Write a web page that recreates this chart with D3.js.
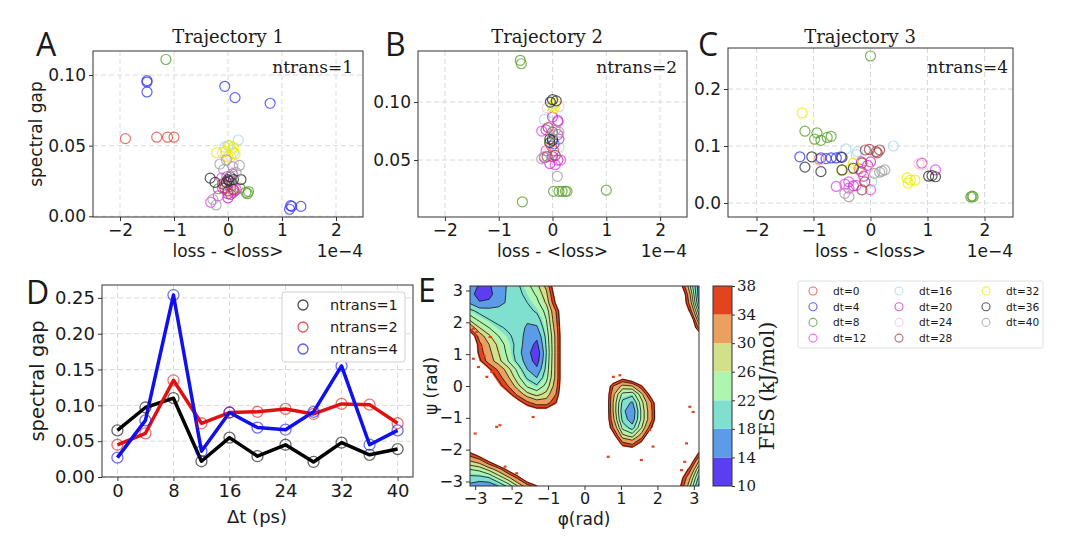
<!DOCTYPE html>
<html lang="en">
<head>
<meta charset="UTF-8">
<title>Spectral gap and FES</title>
<script src="https://d3js.org/d3.v7.min.js"></script>
<style>
  body { margin: 0; background: #fff; }
  svg text { fill: #1a1a1a; }
  .grid line { stroke: #d9d9d9; stroke-dasharray: 5,3; stroke-width: 1; }
  .frame { fill: none; stroke: #333; stroke-width: 1; }
</style>
</head>
<body>
<svg id="fig" width="1080" height="538"></svg>
<script>
// ---- data ----
const dtLabels = [0, 4, 8, 12, 16, 20, 24, 28, 32, 36, 40];
const dtColors = ['#e4503f', '#3a3af5', '#5aa02c', '#ee44ee', '#a8d8f0', '#d030d0',
                  '#f4c4d4', '#a04848', '#eded00', '#303030', '#a0a0a0'];

// [loss - <loss> (1e-4), spectral gap] per dt
const trajA = [
  [[-1.9,0.055],[-1.32,0.056],[-1.12,0.056],[-1.0,0.056]],
  [[-1.5,0.096],[-1.5,0.095],[-1.5,0.088],[-0.06,0.092],[0.13,0.084],[0.78,0.080],[1.14,0.005],[1.18,0.007],[1.35,0.007],[1.16,0.0075]],
  [[-1.15,0.111],[0.33,0.017],[0.38,0.0175],[0.36,0.016],[-0.18,0.0195],[0.22,0.02],[0.05,0.021]],
  [[-0.32,0.010],[-0.18,0.0145],[-0.05,0.022],[0.1,0.017],[-0.12,0.027],[0.15,0.019]],
  [[0.0,0.050],[0.19,0.054],[-0.06,0.049],[0.1,0.045]],
  [[-0.1,0.02],[0.0,0.016],[0.05,0.025],[0.12,0.018],[-0.02,0.028],[0.08,0.03],[0.0,0.013]],
  [[-0.1,0.045],[0.05,0.042],[0.1,0.038],[-0.05,0.024],[0.02,0.02]],
  [[-0.06,0.02],[0.0,0.018],[0.05,0.0155],[0.1,0.019],[-0.1,0.023]],
  [[-0.21,0.045],[-0.05,0.046],[0.07,0.047],[0.13,0.044],[0.0,0.042],[0.1,0.049],[0.03,0.05]],
  [[-0.33,0.027],[-0.24,0.024],[0.04,0.028],[0.1,0.026],[0.24,0.026],[-0.03,0.024],[0.0,0.026],[0.02,0.025]],
  [[-0.15,0.037],[-0.03,0.04],[0.09,0.035],[0.21,0.036],[0.15,0.031],[-0.28,0.012],[-0.22,0.008],[-0.08,0.033]]
];
const trajB = [
  [[-0.02,0.062],[0.02,0.058]],
  [[0.0,0.068],[0.03,0.064]],
  [[-0.6,0.136],[-0.58,0.133],[-0.56,0.014],[0.02,0.023],[0.12,0.023],[0.18,0.023],[0.24,0.023],[0.27,0.023],[1.0,0.024]],
  [[-0.2,0.075],[0.1,0.083],[0.15,0.05],[0.05,0.046],[-0.12,0.058]],
  [[-0.15,0.085],[0.12,0.061],[0.0,0.091]],
  [[0.0,0.087],[0.1,0.084],[-0.12,0.076],[0.1,0.072],[0.12,0.068],[0.0,0.053],[0.1,0.05],[-0.05,0.047],[-0.15,0.052]],
  [[-0.1,0.095],[0.12,0.096],[-0.05,0.06]],
  [[-0.08,0.078],[0.0,0.074],[0.05,0.054],[-0.1,0.053]],
  [[0.0,0.097],[0.05,0.099],[0.03,0.095],[-0.05,0.065]],
  [[0.0,0.102],[0.07,0.101],[-0.04,0.1],[-0.05,0.068],[-0.05,0.065],[0.0,0.067]],
  [[0.05,0.076],[0.12,0.074],[0.0,0.072],[-0.15,0.053],[-0.2,0.051],[0.09,0.036]]
];
const trajC = [
  [[-0.9,0.077],[-0.2,0.06]],
  [[-1.24,0.081],[-0.87,0.079],[-0.78,0.078],[-0.69,0.079],[-0.6,0.079],[-0.52,0.081]],
  [[0.0,0.258],[1.76,0.0105],[1.8,0.011],[1.78,0.012],[-1.15,0.126],[-0.94,0.123],[-0.98,0.112],[-0.87,0.11],[-0.76,0.115],[-0.69,0.117]],
  [[-0.6,0.029],[-0.45,0.033],[-0.38,0.037],[-0.38,0.026],[-0.25,0.031],[0.0,0.023],[1.14,0.058]],
  [[-0.43,0.095],[-0.23,0.09],[0.4,0.1],[0.02,0.037],[-0.25,0.085]],
  [[-0.16,0.072],[0.0,0.072],[-0.05,0.066],[-0.16,0.055],[-0.12,0.047],[0.9,0.07],[-0.3,0.03]],
  [[-0.9,0.075],[0.9,0.067],[0.85,0.069],[-0.05,0.06]],
  [[-0.09,0.093],[-0.02,0.094],[0.1,0.09],[0.16,0.093],[0.12,0.088],[-0.15,0.07],[-0.1,0.037],[-0.15,0.023]],
  [[-1.2,0.158],[-0.3,0.07],[-0.5,0.057],[-0.35,0.06],[0.64,0.044],[0.66,0.035],[0.78,0.04],[0.7,0.04]],
  [[-1.03,0.081],[-1.15,0.063],[-0.87,0.055],[-0.5,0.08],[-0.5,0.058],[-0.3,0.061],[1.02,0.047],[1.08,0.048],[1.14,0.046]],
  [[0.07,0.052],[0.16,0.054],[0.25,0.058],[0.2,0.056],[-0.45,0.017],[-0.38,0.011]]
];

// panel D
const dtPs = [0, 4, 8, 12, 16, 20, 24, 28, 32, 36, 40];
const gapN1 = [0.065, 0.097, 0.110, 0.022, 0.055, 0.029, 0.045, 0.021, 0.048, 0.031, 0.039];
const gapN2 = [0.045, 0.061, 0.135, 0.075, 0.090, 0.091, 0.095, 0.088, 0.102, 0.101, 0.075];
const gapN4 = [0.027, 0.079, 0.254, 0.036, 0.090, 0.069, 0.066, 0.091, 0.155, 0.045, 0.065];
const nLabels = ['ntrans=1', 'ntrans=2', 'ntrans=4'];
const nColors = ['#000000', '#e01010', '#1010ee'];

// panel E: FES (kJ/mol) on a 25x25 grid, phi from -pi to pi (columns),
// psi from pi (first row) down to -pi (last row); 45 = above the plotted range
const fesGrid = [
  [16,13.5,13.5,16,18.5,20.5,23,26,31,42,45,45,45,45,45,45,45,45,45,45,45,45,40,28,16],
  [16,11.5,12.5,16.5,18.5,20,22,24.5,29,40,45,45,45,45,45,45,45,45,45,45,45,45,45,31,16],
  [17.5,14.5,15,17,18.5,19.5,21,23,27.5,38,45,45,45,45,45,45,45,45,45,45,45,45,45,33,17.5],
  [22,20,19.5,19,19,19.5,20,21.5,25,34,45,45,45,45,45,45,45,45,45,45,45,45,45,37,22],
  [26,23,21,20,19.5,19,18.5,19.5,24,33,45,45,45,45,45,45,45,45,45,45,45,45,45,44,26],
  [33,27,24,21.5,20.5,19.5,17.5,17.5,23,32,45,45,45,45,45,45,45,45,45,45,45,45,45,45,33],
  [42,32,27.5,24,21.5,20,16.5,15,22,31,45,45,45,45,45,45,45,45,45,45,45,45,45,45,42],
  [45,35,30,26,22.5,20,16,13,21.5,31,45,45,45,45,45,45,45,45,45,45,45,45,45,45,45],
  [44,36,31,27,23,19.5,15.5,11,21,31,45,45,45,45,45,45,45,45,45,45,45,45,45,45,45],
  [45,38,32,28,24,20,16.5,12,21.5,31,45,45,45,45,45,45,45,45,45,45,45,45,45,45,45],
  [45,44,38,33,28,23,18,15,22,31,45,45,45,45,45,45,45,45,45,45,45,45,45,45,45],
  [45,45,41,36,30.5,25,20.5,18,23,31,45,45,45,45,45,44,39,43,45,45,45,45,45,45,45],
  [45,45,45,39,34,28,23.5,21.5,25,32,45,45,45,45,45,34,29,30,37,45,45,45,45,45,45],
  [45,45,45,45,39,33,28,26,28,34,45,45,45,45,45,31,23,22,29,40,45,45,45,45,45],
  [45,45,45,45,45,40,35,32,32,37,45,45,45,45,45,30,20,17.5,26,34,45,45,45,45,45],
  [45,45,45,45,45,45,42,40,40,43,45,45,45,45,45,30,19,15,25,33,45,45,45,45,45],
  [45,45,45,45,45,45,45,45,45,45,45,45,45,45,45,31,20,16,25,33,45,45,45,45,45],
  [45,45,45,45,45,45,45,45,45,45,45,45,45,45,45,34,23,19.5,27,37,45,45,45,45,45],
  [45,45,45,45,45,45,45,45,45,45,45,45,45,45,45,40,28,26,32,45,45,45,45,45,45],
  [45,45,45,45,45,45,45,45,45,45,45,45,45,45,45,45,36,34,40,45,45,45,45,45,45],
  [37,42,45,45,45,45,45,45,45,45,45,45,45,45,45,45,44,43,45,45,45,45,45,45,37],
  [30,32,38,45,45,45,45,45,45,45,45,45,45,45,45,45,45,45,45,45,45,45,45,42,30],
  [24,25,28,32,39,45,45,45,45,45,45,45,45,45,45,45,45,45,45,45,45,45,44,36,24],
  [20,20,21,25,29,35,43,45,45,45,45,45,45,45,45,45,45,45,45,45,45,45,40,31,20],
  [17,15.5,15.5,18,22,27,32,37,45,45,45,45,45,45,45,45,45,45,45,45,45,45,38,28,17]
];
const fesLevels = [10, 14, 18, 22, 26, 30, 34, 38];
const fesColors = ['#5b3df2', '#5b9be8', '#7fe0d0', '#aef5b0', '#d2e08a', '#eba060', '#e2441e'];
const fesLines = [14, 18, 21, 24, 27, 30, 34, 37];
// isolated high-energy samples [phi, psi] (rad)
const fesSpecks = [[-3.05,0.86],[-2.91,0.60],[-2.68,0.29],[-2.82,1.23],[-2.41,-1.28],[-2.32,-1.23],
  [-3.0,-1.49],[2.89,-0.65],[2.98,-0.81],[2.8,-1.8],[1.56,-2.32],[0.79,0.29],[0.97,0.34],
  [0.65,-2.22],[-1.41,-0.97],[-3.05,1.8],[-2.96,1.7],[-2.59,1.54],[2.75,-2.38],[2.66,-2.64],
  [-2.18,-2.53],[-1.86,-2.74],[1.79,-1.38],[1.88,-1.9],[-2.75,0.95],[-2.55,0.45]];

// ---- drawing ----
const svg = d3.select('#fig');
const SANS = 'DejaVu Sans', SERIF = 'DejaVu Serif';

function grid(x, y, xt, yt) {
  const [l, r] = x.range(), [b, t] = y.range();
  const g = svg.append('g').attr('class', 'grid');
  g.selectAll('.gx').data(xt).join('line').attr('class', 'gx')
    .attr('x1', d => x(d)).attr('x2', d => x(d)).attr('y1', t).attr('y2', b);
  g.selectAll('.gy').data(yt).join('line').attr('class', 'gy')
    .attr('y1', d => y(d)).attr('y2', d => y(d)).attr('x1', l).attr('x2', r);
}

function axes(x, y, xt, yt, fx, fy, fs) {
  const [l, r] = x.range(), [b, t] = y.range();
  const ax = svg.append('g').attr('transform', `translate(0,${b})`)
    .call(d3.axisBottom(x).tickValues(xt).tickFormat(fx).tickSize(4).tickPadding(3));
  const ay = svg.append('g').attr('transform', `translate(${l},0)`)
    .call(d3.axisLeft(y).tickValues(yt).tickFormat(fy).tickSize(4).tickPadding(3));
  [ax, ay].forEach(a => {
    a.attr('font-family', SANS).attr('font-size', fs);
    a.select('.domain').remove();
    a.selectAll('line').attr('stroke', '#333');
    a.selectAll('text').attr('fill', '#1a1a1a');
  });
  svg.append('rect').attr('class', 'frame')
    .attr('x', l).attr('y', t).attr('width', r - l).attr('height', b - t);
}

function label(txt, x, y, size, opts = {}) {
  const t = svg.append('text').attr('x', x).attr('y', y).text(txt)
    .attr('font-family', opts.family || SANS).attr('font-size', size)
    .attr('text-anchor', opts.anchor || 'middle');
  if (opts.rotate) t.attr('transform', `rotate(-90,${x},${y})`);
  return t;
}

// ---- panels A, B, C ----
const scatterPanels = [
  { data: trajA, x: d3.scaleLinear([-2.5, 2.5], [93, 363]), y: d3.scaleLinear([-0.0005, 0.117], [217, 51]),
    yt: [0, 0.05, 0.10], fy: d3.format('.2f'), title: 'Trajectory 1', tx: 228, note: 'ntrans=1', nx: 353,
    letter: 'A', lx: 36 },
  { data: trajB, x: d3.scaleLinear([-2.5, 2.5], [418, 687]), y: d3.scaleLinear([0.0009, 0.144], [217, 51]),
    yt: [0.05, 0.10], fy: d3.format('.2f'), title: 'Trajectory 2', tx: 547, note: 'ntrans=2', nx: 677,
    letter: 'B', lx: 385 },
  { data: trajC, x: d3.scaleLinear([-2.5, 2.5], [728, 1013]), y: d3.scaleLinear([-0.0246, 0.272], [217, 48]),
    yt: [0, 0.1, 0.2], fy: d3.format('.1f'), title: 'Trajectory 3', tx: 860, note: 'ntrans=4', nx: 1008,
    letter: 'C', lx: 698 }
];
const xTicksABC = [-2, -1, 0, 1, 2];

scatterPanels.forEach(p => {
  grid(p.x, p.y, xTicksABC, p.yt);
  p.data.forEach((pts, i) => {
    svg.append('g').selectAll('circle').data(pts).join('circle')
      .attr('cx', d => p.x(d[0])).attr('cy', d => p.y(d[1])).attr('r', 5)
      .attr('fill', 'none').attr('stroke', dtColors[i]).attr('stroke-width', 1.2)
      .attr('stroke-opacity', 0.8);
  });
  axes(p.x, p.y, xTicksABC, p.yt, d3.format('d'), p.fy, 17);
  const [l, r] = p.x.range();
  label(p.title, p.tx, 43, 18, { family: SERIF });
  label(p.note, p.nx, 73, 17, { family: SERIF, anchor: 'end' });
  label('loss - <loss>', (l + r) / 2, 257, 17);
  label('1e\u22124', r, 257, 17, { anchor: 'end' });
  label(p.letter, p.lx, 56, 32, { family: 'Open Sans', anchor: 'start' });
});
label('spectral gap', 42, 134, 17, { rotate: true });

// ---- panel D ----
const xD = d3.scaleLinear([-2.2, 42.2], [102, 413]);
const yD = d3.scaleLinear([0, 0.268], [477, 285]);
const dTicksX = [0, 8, 16, 24, 32, 40];
const dTicksY = [0, 0.05, 0.10, 0.15, 0.20, 0.25];
grid(xD, yD, dTicksX, dTicksY);
const lineD = d3.line().x((d, i) => xD(dtPs[i])).y(d => yD(d));
[gapN1, gapN2, gapN4].forEach((s, k) => {
  svg.append('path').datum(s).attr('d', lineD).attr('fill', 'none')
    .attr('stroke', nColors[k]).attr('stroke-width', 3.5).attr('stroke-linejoin', 'round');
});
[gapN1, gapN2, gapN4].forEach((s, k) => {
  svg.append('g').selectAll('circle').data(s).join('circle')
    .attr('cx', (d, i) => xD(dtPs[i])).attr('cy', d => yD(d)).attr('r', 5.5)
    .attr('fill', 'none').attr('stroke', nColors[k]).attr('stroke-width', 1.3)
    .attr('stroke-opacity', 0.6);
});
axes(xD, yD, dTicksX, dTicksY, d3.format('d'), d3.format('.2f'), 18);
label('spectral gap', 44, 381, 19.5, { rotate: true });
label('\u0394t (ps)', 257, 523, 18);
label('D', 26, 304, 32, { family: 'Open Sans', anchor: 'start' });

// legend D
const legD = svg.append('g');
legD.append('rect').attr('x', 282).attr('y', 292).attr('width', 123).attr('height', 70)
  .attr('rx', 3).attr('fill', '#fff').attr('fill-opacity', 0.85).attr('stroke', '#d0d0d0');
nLabels.forEach((t, k) => {
  const yy = 305 + k * 22;
  legD.append('circle').attr('cx', 303).attr('cy', yy).attr('r', 5)
    .attr('fill', 'none').attr('stroke', nColors[k]).attr('stroke-width', 1.3).attr('stroke-opacity', 0.7);
  legD.append('text').attr('x', 330).attr('y', yy + 5).text(t)
    .attr('font-family', SANS).attr('font-size', 14.5);
});

// ---- panel E ----
const xE = d3.scaleLinear([-Math.PI, Math.PI], [470, 699]);
const yE = d3.scaleLinear([-Math.PI, Math.PI], [486, 286]);
const nG = fesGrid.length, step = 2 * Math.PI / (nG - 1);
const negFes = fesGrid.flat().map(v => -v);
const proj = d3.geoTransform({
  point: function (px, py) {
    this.stream.point(xE(-Math.PI + (px - 0.5) * step), yE(Math.PI - (py - 0.5) * step));
  }
});
const fesPath = d3.geoPath(proj);
svg.append('clipPath').attr('id', 'clipE').append('rect')
  .attr('x', 470).attr('y', 286).attr('width', 229).attr('height', 200);
const gE = svg.append('g').attr('clip-path', 'url(#clipE)');
const upper = fesLevels.slice(1).reverse();
const fills = d3.contours().size([nG, nG]).thresholds(upper.map(v => -v))(negFes);
fills.forEach((c, k) => {
  const lvl = upper[k];
  gE.append('path').attr('d', fesPath(c)).attr('fill', fesColors[fesLevels.indexOf(lvl) - 1]);
});
const lines = d3.contours().size([nG, nG]).thresholds(fesLines.map(v => -v))(negFes);
lines.forEach(c => {
  gE.append('path').attr('d', fesPath(c)).attr('fill', 'none')
    .attr('stroke', '#111').attr('stroke-width', 0.8);
});
gE.selectAll('.speck').data(fesSpecks).join('rect').attr('class', 'speck')
  .attr('x', d => xE(d[0]) - 1.5).attr('y', d => yE(d[1]) - 1)
  .attr('width', 3).attr('height', 2.2).attr('fill', fesColors[6]);
const eTicks = [-3, -2, -1, 0, 1, 2, 3];
axes(xE, yE, eTicks, eTicks, d3.format('d'), d3.format('d'), 16);
label('\u03c8 (rad)', 437, 386, 17, { rotate: true });
label('\u03c6(rad)', 584, 525, 17);
label('E', 418, 302, 32, { family: 'Open Sans', anchor: 'start' });

// colorbar
const yCb = d3.scaleLinear([10, 38], [486, 286]);
const cb = svg.append('g');
fesColors.forEach((c, k) => {
  cb.append('rect').attr('x', 713).attr('width', 19)
    .attr('y', yCb(fesLevels[k + 1])).attr('height', yCb(fesLevels[k]) - yCb(fesLevels[k + 1]))
    .attr('fill', c);
});
cb.append('rect').attr('class', 'frame').attr('x', 713).attr('y', 286).attr('width', 19).attr('height', 200);
const cbAx = cb.append('g').attr('transform', 'translate(732,0)')
  .call(d3.axisRight(yCb).tickValues(fesLevels).tickSize(3).tickPadding(2));
cbAx.select('.domain').remove();
cbAx.attr('font-family', SERIF).attr('font-size', 15);
cbAx.selectAll('line').attr('stroke', '#333');
label('FES (kJ/mol)', 774, 386, 20, { family: SERIF, rotate: true });

// dt legend
const legT = svg.append('g');
legT.append('rect').attr('x', 798).attr('y', 281).attr('width', 245).attr('height', 67)
  .attr('rx', 2).attr('fill', '#fff').attr('stroke', '#e0e0e0');
const colX = [813, 899, 986];
dtLabels.forEach((d, i) => {
  const col = Math.floor(i / 4), row = i % 4;
  const yy = 291 + row * 15.7;
  legT.append('circle').attr('cx', colX[col]).attr('cy', yy).attr('r', 4)
    .attr('fill', 'none').attr('stroke', dtColors[i]).attr('stroke-width', 1.1).attr('stroke-opacity', 0.8);
  legT.append('text').attr('x', colX[col] + 20).attr('y', yy + 4).text('dt=' + d)
    .attr('font-family', SANS).attr('font-size', 10.6);
});
</script>
</body>
</html>
